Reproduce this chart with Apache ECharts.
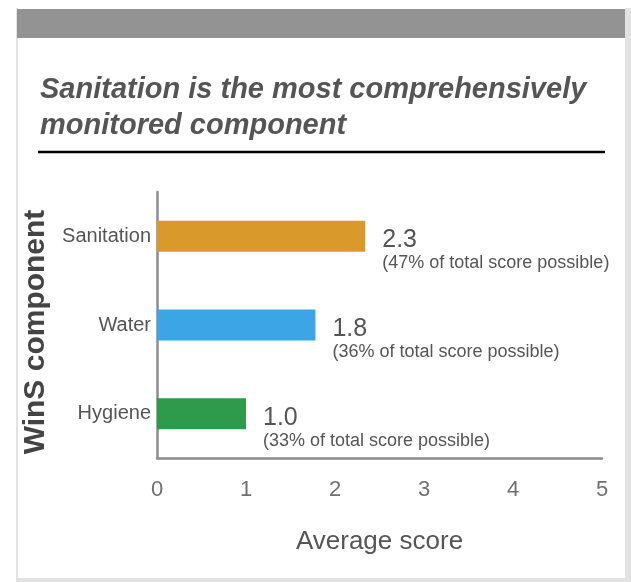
<!DOCTYPE html>
<html>
<head>
<meta charset="utf-8">
<script src="https://cdn.jsdelivr.net/npm/echarts@6/dist/echarts.min.js"></script>
<style>
  html, body { margin: 0; padding: 0; background: #fff; }
  #backdrop { position: absolute; left: 16px; top: 8px; width: 615px; height: 574px; background: #e2e2e2; }
  #card { position: absolute; left: 18px; top: 8px; width: 607px; height: 570px; background: #fff; }
  #topbar { position: absolute; left: 17px; top: 9px; width: 608px; height: 29px; background: #939393; }
  #chart { position: absolute; left: 0; top: 0; width: 631px; height: 582px; }
</style>
</head>
<body>
<div id="backdrop"></div>
<div id="card"></div>
<div id="topbar"></div>
<div id="chart"></div>
<script>
// data
var components = ['Sanitation', 'Water', 'Hygiene']
var avgScores = [2.34, 1.78, 1.0]
var pctOfTotal = [47, 36, 33]
var barColors = ['#d99a2b', '#3ca5e6', '#2e9b4c']
var xTicks = [0, 1, 2, 3, 4, 5]

var chart = echarts.init(document.getElementById('chart'))

chart.setOption({
  backgroundColor: 'transparent',
  title: {
    text: 'Sanitation is the most comprehensively\nmonitored component',
    left: 35,
    top: 67,
    textStyle: {
      fontFamily: 'Liberation Sans',
      fontSize: 29,
      fontWeight: 'bold',
      fontStyle: 'italic',
      color: '#555',
      lineHeight: 36
    }
  },
  graphic: [
    {
      type: 'line',
      shape: { x1: 38, y1: 152, x2: 605, y2: 152 },
      style: { stroke: '#000', lineWidth: 2.5 }
    }
  ],
  grid: {
    left: 157,
    right: 29,
    top: 192,
    bottom: 124
  },
  xAxis: {
    type: 'value',
    min: xTicks[0],
    max: xTicks[xTicks.length - 1],
    interval: 1,
    name: 'Average score',
    nameLocation: 'middle',
    nameGap: 71,
    nameTextStyle: { fontFamily: 'Liberation Sans', fontSize: 26, color: '#555' },
    axisLine: { show: true, lineStyle: { color: '#8c8c8c', width: 2.5 } },
    axisTick: { show: false },
    splitLine: { show: false },
    axisLabel: { margin: 21, fontFamily: 'Liberation Sans', fontSize: 22, color: '#707070' }
  },
  yAxis: {
    type: 'category',
    inverse: true,
    data: components,
    name: 'WinS component',
    nameLocation: 'middle',
    nameRotate: 90,
    nameGap: 95,
    nameTextStyle: {
      fontFamily: 'Liberation Sans',
      fontSize: 30,
      fontWeight: 'bold',
      color: '#444',
      padding: [0, 14, 0, 0]
    },
    axisLine: { show: true, lineStyle: { color: '#8c8c8c', width: 2.5 } },
    axisTick: { show: false },
    axisLabel: { margin: 6, fontFamily: 'Liberation Sans', fontSize: 20, color: '#555' }
  },
  series: [
    {
      type: 'bar',
      data: avgScores,
      barWidth: 31,
      colorBy: 'data',
      color: barColors,
      label: {
        show: true,
        position: 'right',
        distance: 17,
        offset: [0, 14],
        formatter: function (p) {
          return '{v|' + p.value.toFixed(1) + '}\n{p|(' + pctOfTotal[p.dataIndex] + '% of total score possible)}'
        },
        rich: {
          v: { fontFamily: 'Liberation Sans', fontSize: 25, lineHeight: 26, color: '#555' },
          p: { fontFamily: 'Liberation Sans', fontSize: 18, lineHeight: 20, color: '#555' }
        }
      }
    }
  ]
})
</script>
</body>
</html>
